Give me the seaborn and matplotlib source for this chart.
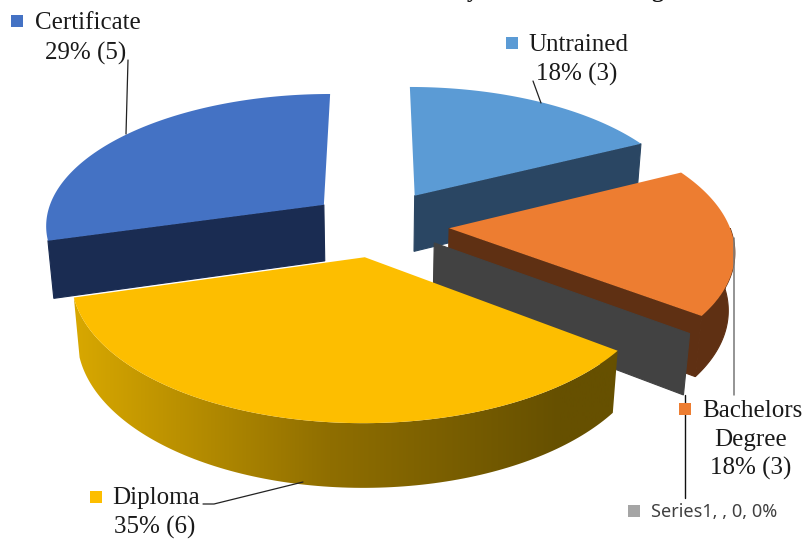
import numpy as np
import matplotlib
matplotlib.use("Agg")
import matplotlib.pyplot as plt
import matplotlib.colors as mcolors
import seaborn as sns

# ---- data ----
categories = ["Untrained", "Bachelors Degree", "Series1", "Diploma", "Certificate"]
counts = [3, 3, 0, 6, 5]
top_colors = ["#5b9bd5", "#ed7d31", "#a5a5a5", "#fdbe00", "#4472c4"]
wall_colors = ["#2a4663", "#5f3013", "#424242", "#665000", "#1a2c52"]
explode = [0.27, 0.265, 0.26, 0.24, 0.26]
explode_x_scale = [1.03, 1.0, 1.0, 0.8, 0.9]
explode_y_scale = [1.0, 1.0, 0.85, 1.0, 1.0]
draw_order = [4, 0, 1, 2, 3]
has_rim = [False, True, False, True, False]

# ---- projection (perspective view of a tilted disc) ----
CX, CY = 375, 225
RX, RY = 280, 132
PERSP, DEPTH_P, HEIGHT = 0.143, 0.018, 58


def project(x, y, z=0.0):
    x, y = np.asarray(x, float), np.asarray(y, float)
    w = 1 - PERSP * y + DEPTH_P * z
    return CX + RX * x / w, CY + (RY * y + HEIGHT * z) / w


sns.set_theme(style="white")
plt.rcParams["font.family"] = ["Liberation Serif", "DejaVu Sans"]

fig = plt.figure(figsize=(8.03, 5.39), dpi=100)
ax = fig.add_axes([0, 0, 1, 1])
ax.set_xlim(0, 803)
ax.set_ylim(539, 0)
ax.axis("off")

fractions = np.array(counts) / sum(counts)
edges = np.concatenate([[0], np.cumsum(fractions)]) * 2 * np.pi
grad_x = [60, 330, 560, 620]
grad_c = [mcolors.to_rgb(c) for c in ["#dcab00", "#8f6e00", "#665000", "#665000"]]
grad_map = mcolors.LinearSegmentedColormap.from_list(
    "wall", [((x - 60) / 560, c) for x, c in zip(grad_x, grad_c)])

for i in draw_order:
    t0, t1 = edges[i], edges[i + 1]
    mid = (t0 + t1) / 2
    ax_x = explode[i] * explode_x_scale[i] * np.sin(mid)
    ax_y = -explode[i] * explode_y_scale[i] * np.cos(mid)
    z_base = 1 + draw_order.index(i)

    def rim(t):
        return ax_x + np.sin(t), ax_y - np.cos(t)

    # radial walls which face the viewer
    for t, visible in ((t0, np.sin(t0) < -1e-6), (t1, np.sin(t1) > 1e-6)):
        if visible:
            rx_, ry_ = rim(t)
            px, py = project([ax_x, rx_, rx_, ax_x], [ax_y, ry_, ry_, ax_y],
                             np.array([0, 0, 1, 1.0]))
            ax.fill(px, py, color=wall_colors[i], lw=0.8, zorder=z_base)

    # outer wall, near half only
    lo, hi = max(t0, np.pi / 2), min(t1, 3 * np.pi / 2)
    if has_rim[i] and hi > lo:
        ts = np.linspace(lo, hi, 120)
        rx_, ry_ = rim(ts)
        px_t, py_t = project(rx_, ry_, 0.0)
        px_b, py_b = project(rx_, ry_, 1.0)
        px = np.r_[px_t, px_b[::-1]]
        py = np.r_[py_t, py_b[::-1]]
        if i == 3:
            poly = ax.fill(px, py, color="none", lw=0, zorder=z_base)[0]
            img = ax.imshow(np.linspace(0, 1, 256)[None, :], cmap=grad_map, aspect="auto",
                            extent=(60, 620, 539, 0), zorder=z_base)
            img.set_clip_path(poly)
        else:
            ax.fill(px, py, color=wall_colors[i], lw=0.8, zorder=z_base)

    # top face
    if t1 > t0:
        ts = np.linspace(t0, t1, 120)
        rx_, ry_ = rim(ts)
        px, py = project(np.r_[ax_x, rx_], np.r_[ax_y, ry_])
        ax.fill(px, py, color=top_colors[i], lw=0, zorder=z_base + 0.5)

ax.set_xlim(0, 803)
ax.set_ylim(539, 0)

# ---- leader lines ----
LZ = 20
ax.plot([128, 126], [60, 134], color="#222222", lw=0.9, zorder=LZ)
ax.plot([533, 541], [81, 103], color="#222222", lw=0.9, zorder=LZ)
ax.plot([734, 734], [238, 395], color="#777777", lw=1.1, zorder=LZ)
ax.plot([685, 685], [395, 498], color="#111111", lw=1.0, zorder=LZ)
ax.plot([203, 214, 303], [504, 504, 482], color="#222222", lw=0.9, zorder=LZ)

# ---- labels ----
FS = 18
TC = "#1a1a1a"


def label(x, y, s, ha="center"):
    ax.text(x, y, s, ha=ha, va="center", fontsize=FS, color=TC, zorder=LZ + 1)


def key(x, y, color):
    ax.scatter([x], [y], marker="s", s=72, color=color, lw=0, zorder=LZ + 1)


key(17, 21, top_colors[4])
label(35, 23, "Certificate", ha="left")
label(86, 53, "29% (5)")
key(512, 43, top_colors[0])
label(528, 45, "Untrained", ha="left")
label(577, 74, "18% (3)")
key(685, 409, top_colors[1])
label(702, 411, "Bachelors", ha="left")
label(751, 440, "Degree")
label(751, 468, "18% (3)")
key(96, 497, top_colors[3])
label(112, 498, "Diploma", ha="left")
label(155, 527, "35% (6)")
key(634, 511, top_colors[2])
ax.text(651, 512, "Series1, , 0, 0%", ha="left", va="center", fontsize=13,
        color="#404040", family="Noto Sans", zorder=LZ + 1)

# clipped remains of the title at the top edge
ax.text(473, -3, "y", ha="center", va="baseline", fontsize=17, fontweight="bold", color="#111111")
ax.text(657, -3, "g", ha="center", va="baseline", fontsize=17, fontweight="bold", color="#111111")

fig.savefig("out.png", dpi=100)
